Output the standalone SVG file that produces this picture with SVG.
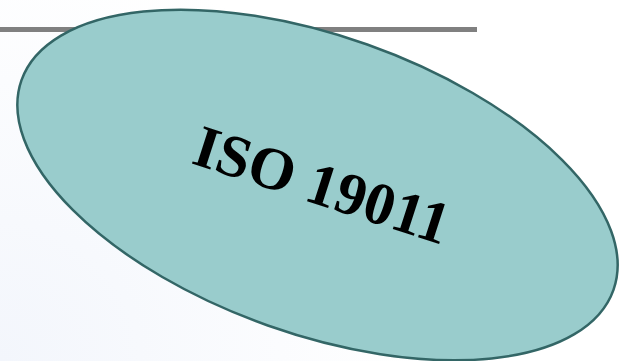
<svg xmlns="http://www.w3.org/2000/svg" width="622" height="361" viewBox="0 0 622 361">
  <defs>
    <radialGradient id="bg" cx="0" cy="361" r="420" gradientUnits="userSpaceOnUse">
      <stop offset="0" stop-color="#F3F6FC"/>
      <stop offset="1" stop-color="#FFFFFF"/>
    </radialGradient>
    <style>
      .rule { stroke: #808080; stroke-width: 5; }
      .oval { fill: #99CCCC; stroke: #336666; stroke-width: 2.5; }
      .title { font-family: "Liberation Serif", "Times New Roman", serif; font-weight: bold; font-size: 60px; fill: #000000; }
    </style>
  </defs>
  <rect x="0" y="0" width="622" height="361" fill="url(#bg)"/>
  <line class="rule" x1="0" y1="29.5" x2="477" y2="29.5"/>
  <g id="iso19011">
    <ellipse class="oval" cx="317.5" cy="185" rx="314" ry="149" transform="rotate(19.5 317.5 185)"/>
    <text class="title" text-anchor="middle" transform="translate(316 204) rotate(18)">ISO 19011</text>
  </g>
  <g id="connectors"/>
</svg>
